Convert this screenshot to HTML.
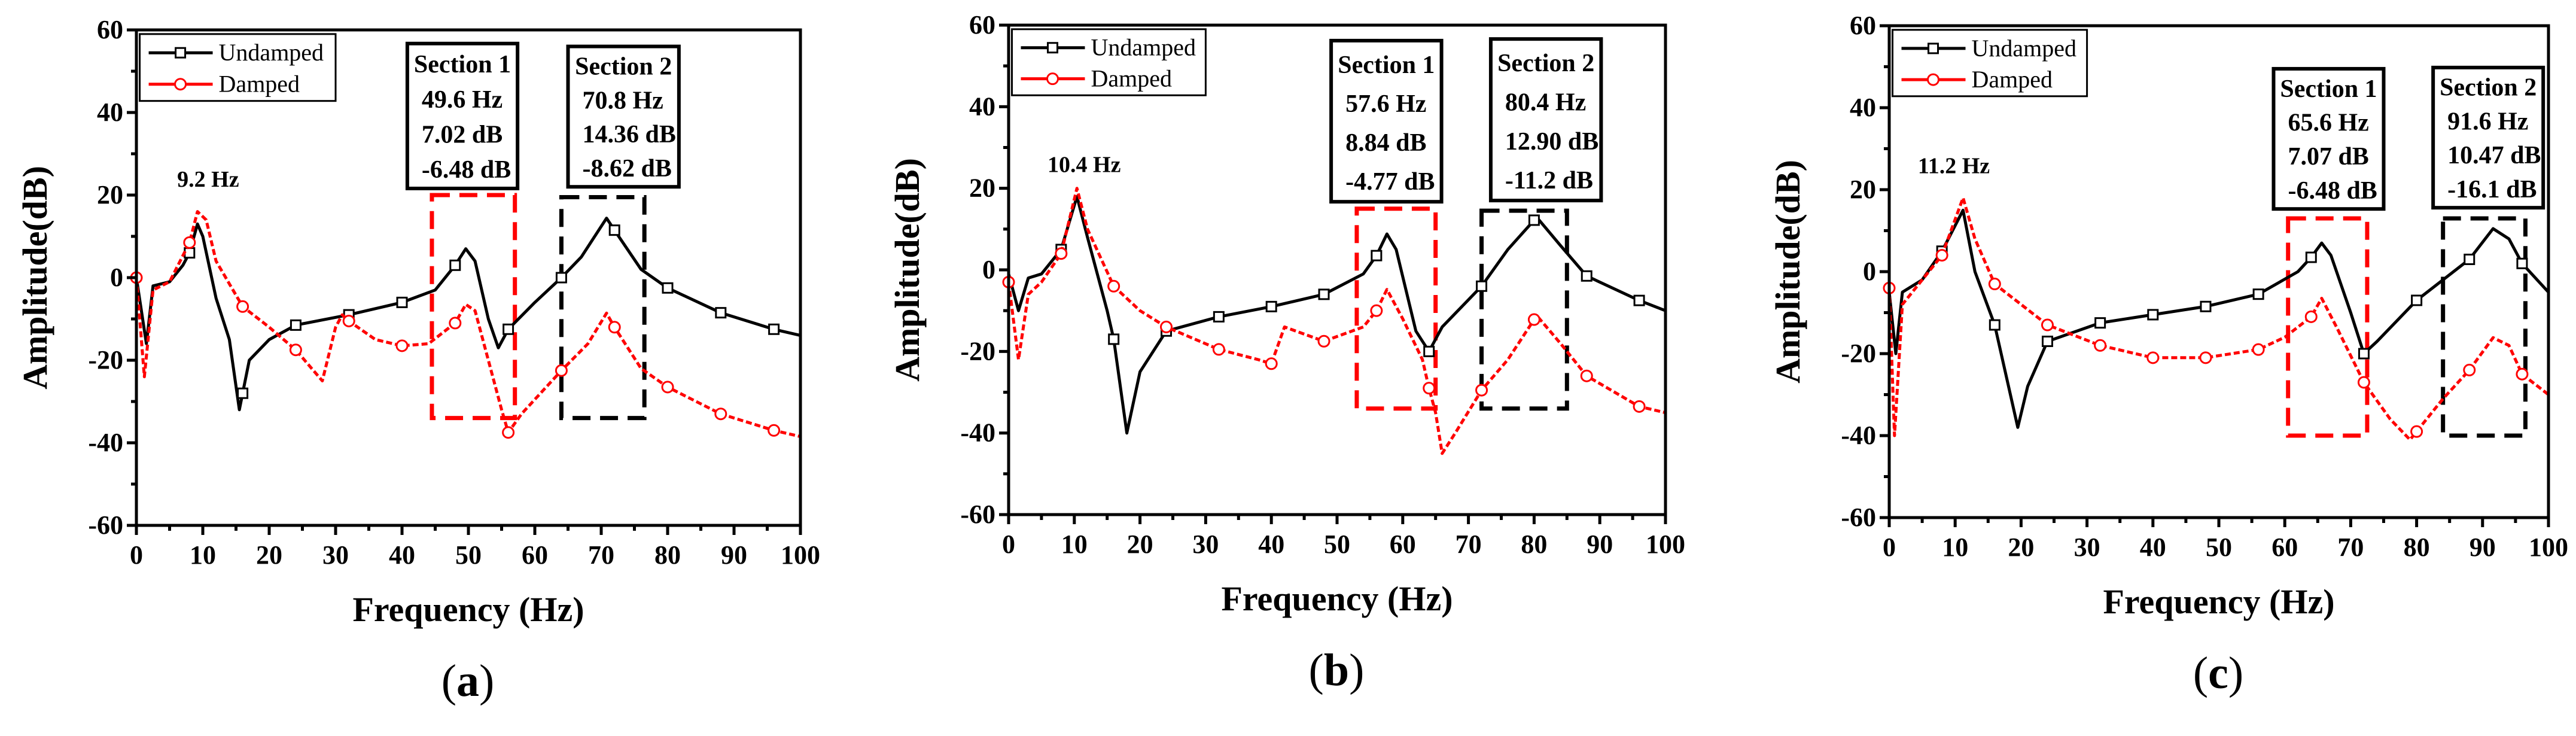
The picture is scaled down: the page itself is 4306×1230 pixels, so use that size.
<!DOCTYPE html>
<html><head><meta charset="utf-8"><style>
html,body{margin:0;padding:0;background:#fff;}
svg{display:block;font-family:"Liberation Serif",serif;}
</style></head><body>
<svg id="fig" width="4306" height="1230" viewBox="0 0 4306 1230" xmlns="http://www.w3.org/2000/svg"></svg>
<script>
const xTicks=[0,10,20,30,40,50,60,70,80,90,100];
const yTicks=[-60,-40,-20,0,20,40,60];
const markerFreqs=[0,8,16,24,32,40,48,56,64,72,80,88,96];

const undampedA_f=[0,1.5,2.5,5,7,8,9.2,10,12,14,15.5,16,17,20,24,32,40,45,48,49.6,51,53,54.5,56,60,64,67,70.8,72,76,80,88,96,100];
const undampedA_y=[0,-16,-2,-1,3,6,13,10,-5,-15,-32,-28,-20,-15,-11.5,-9,-6,-3,3,7,4,-10,-17,-12.5,-6,0,5,14.4,11.5,2,-2.5,-8.5,-12.5,-14];
const dampedA_f=[0,1.2,2.5,5,8,9.2,10.5,12,16,20,24,28,30,31,32,36,40,44,48,49.6,51,53,55,56,58,64,68,70.8,72,76,80,88,96,100];
const dampedA_y=[0,-24,-3,-1,8.5,16,14,4,-7,-12,-17.5,-25,-12,-9,-10.5,-15,-16.5,-16,-11,-6.5,-8,-20,-32,-37.5,-33,-22.5,-16,-8.6,-12,-22,-26.5,-33,-37,-38.5];

const undampedB_f=[0,1.5,3,5,8,10.4,12,15,16,18,20,24,32,40,48,54,56,57.6,59,62,64,66,72,76,80.4,84,88,96,100];
const undampedB_y=[-1,-10,-2,-1,5,18,8,-10,-17,-40,-25,-15,-11.5,-9,-6,-1,3.5,8.8,5,-15,-20,-14,-4,5,12.9,6,-1.5,-7.5,-10];
const dampedB_f=[0,1.5,3,5,8,10.4,12,16,20,24,32,38,40,42,48,54,56,57.6,60,63,64,65,66,68,72,76,80.4,84,88,96,100];
const dampedB_y=[-3,-22,-6,-3,4,20,10,-4,-10,-14,-19.5,-22,-23,-14,-17.5,-14,-10,-4.8,-12,-22,-29,-35,-45,-40,-29.5,-22,-11.2,-18,-26,-33.5,-35];

const undampedC_f=[0,1,2,5,8,11.2,13,16,19.5,21,24,32,40,48,56,62,64,65.6,67,70,72,74,80,88,91.6,94,96,100];
const undampedC_y=[-5,-20,-5,-2,5,15,0,-13,-38,-28,-17,-12.5,-10.5,-8.5,-5.5,0,3.5,7,4,-10,-20,-17,-7,3,10.5,8,2,-5];
const dampedC_f=[0,0.8,2,5,8,11.2,13,16,24,32,40,48,56,60,64,65.6,68,72,76,79,80,84,88,91.6,94,96,100];
const dampedC_y=[-4,-40,-8,-2,4,18,8,-3,-13,-18,-21,-21,-19,-16,-11,-6.5,-14,-27,-36,-41,-39,-31,-24,-16.1,-18,-25,-30];

const sec1A=["Section 1","49.6 Hz","7.02 dB","-6.48 dB"], sec2A=["Section 2","70.8 Hz","14.36 dB","-8.62 dB"];
const sec1B=["Section 1","57.6 Hz","8.84 dB","-4.77 dB"], sec2B=["Section 2","80.4 Hz","12.90 dB","-11.2 dB"];
const sec1C=["Section 1","65.6 Hz","7.07 dB","-6.48 dB"], sec2C=["Section 2","91.6 Hz","10.47 dB","-16.1 dB"];

const NS="http://www.w3.org/2000/svg";
const svg=document.getElementById('fig');
function mk(tag,attrs,parent){const e=document.createElementNS(NS,tag);for(const k in attrs)e.setAttribute(k,attrs[k]);(parent||svg).appendChild(e);return e;}
function interp(fs,ys,f){for(let i=0;i<fs.length-1;i++){if(f>=fs[i]&&f<=fs[i+1]){const t=(f-fs[i])/(fs[i+1]-fs[i]);return ys[i]+t*(ys[i+1]-ys[i]);}}return ys[ys.length-1];}

function panel(cfg){
  const g=mk('g',{});
  
  
  const X=v=>cfg.x0+(v/100)*(cfg.x1-cfg.x0);
  const Y=v=>cfg.y1-((v+60)/120)*(cfg.y1-cfg.y0);
  function dbox(b,col,name){const r=mk('rect',{x:X(b[0]),y:Y(b[3]),width:X(b[1])-X(b[0]),height:Y(b[2])-Y(b[3]),fill:'none',stroke:col,'stroke-width':7,'stroke-dasharray':'30 16'},g);
    }
  dbox(cfg.redBox,'#ff0000','section1-region');
  dbox(cfg.blackBox,'#000','section2-region');
  function series(fs,ys,col,dash,name,markerType){
    const pts=fs.map((f,i)=>X(f).toFixed(1)+','+Y(ys[i]).toFixed(1)).join(' ');
    const p=mk('polyline',{points:pts,fill:'none',stroke:col,'stroke-width':5,'stroke-linejoin':'round'},g);
    if(dash)p.setAttribute('stroke-dasharray',dash);
    
    markerFreqs.forEach(f=>{
      if(markerType==='sq'&&f===0)return;
      const cx=X(f),cy=Y(interp(fs,ys,f));let m;
      if(markerType==='sq')m=mk('rect',{x:cx-8,y:cy-8,width:16,height:16,fill:'#fff',stroke:col,'stroke-width':3},g);
      else m=mk('circle',{cx:cx,cy:cy,r:9,fill:'#fff',stroke:col,'stroke-width':3},g);
      
    });
  }
  series(cfg.uf,cfg.uy,'#000',null,'undamped','sq');
  series(cfg.df,cfg.dy,'#ff0000','10 5','damped','ci');
  const fr=mk('rect',{x:cfg.x0,y:cfg.y0,width:cfg.x1-cfg.x0,height:cfg.y1-cfg.y0,fill:'none',stroke:'#000','stroke-width':5},g);
  
  for(let v=0;v<=100;v+=5){const maj=v%10===0;mk('line',{x1:X(v),x2:X(v),y1:cfg.y1,y2:cfg.y1+(maj?16:9),stroke:'#000','stroke-width':5},g);}
  for(let v=-60;v<=60;v+=10){const maj=v%20===0;mk('line',{y1:Y(v),y2:Y(v),x1:cfg.x0,x2:cfg.x0-(maj?16:9),stroke:'#000','stroke-width':5},g);}
  xTicks.forEach(v=>{const t=mk('text',{x:X(v),y:cfg.y1+64,'text-anchor':'middle','font-size':44,'font-weight':'bold'},g);t.textContent=v;
    });
  yTicks.forEach(v=>{const t=mk('text',{x:cfg.x0-22,y:Y(v)+14,'text-anchor':'end','font-size':44,'font-weight':'bold'},g);t.textContent=v;
    });
  const yt=mk('text',{x:0,y:0,'text-anchor':'middle','font-size':58,'font-weight':'bold',transform:`translate(${cfg.x0-150},${(cfg.y0+cfg.y1)/2}) rotate(-90)`},g);
  yt.textContent='Amplitude(dB)';
  const xt=mk('text',{x:(cfg.x0+cfg.x1)/2,y:cfg.y1+160,'text-anchor':'middle','font-size':58,'font-weight':'bold'},g);
  xt.textContent='Frequency (Hz)';
  const pl=mk('text',{x:(cfg.x0+cfg.x1)/2-1,y:cfg.y1+285,'text-anchor':'middle','font-size':76},g);
  pl.innerHTML='(<tspan font-weight="bold">'+cfg.id+'</tspan>)';
  const lx=X(0.5),ly=Y(59),lw=X(30)-X(0.5),lh=Y(42.8)-Y(59);
  const lg=mk('g',{},g);
  mk('rect',{x:lx,y:ly,width:lw,height:lh,fill:'#fff',stroke:'#000','stroke-width':3},lg);
  [['Undamped','#000','sq'],['Damped','#ff0000','ci']].forEach((e,i)=>{
    const yy=ly+lh*(i===0?0.28:0.75);
    const eg=mk('g',{},lg);
    mk('line',{x1:lx+15,x2:lx+122,y1:yy,y2:yy,stroke:e[1],'stroke-width':5},eg);
    if(e[2]==='sq')mk('rect',{x:lx+60,y:yy-8,width:16,height:16,fill:'#fff',stroke:e[1],'stroke-width':3},eg);
    else mk('circle',{cx:lx+68,cy:yy,r:9,fill:'#fff',stroke:e[1],'stroke-width':3},eg);
    const t=mk('text',{x:lx+132,y:yy+13,'font-size':40},eg);t.textContent=e[0];
  });
  const pk=mk('text',{x:X(cfg.peak[0]),y:Y(cfg.peak[1]),'text-anchor':'middle','font-size':38,'font-weight':'bold'},g);
  pk.textContent=cfg.peak[2];
  function tbox(b,lines,name){
    const tg=mk('g',{},g);
    const bx=X(b[0]),by=Y(b[3]),bw=X(b[1])-X(b[0]),bh=Y(b[2])-Y(b[3]);
    mk('rect',{x:bx,y:by,width:bw,height:bh,fill:'#fff',stroke:'#000','stroke-width':6},tg);
    lines.forEach((s,i)=>{const t=mk('text',{x:bx+(i===0?bw/2:24),y:by+bh*(0.2+i*0.242),'text-anchor':i===0?'middle':'start','font-size':42,'font-weight':'bold'},tg);t.textContent=s;});
  }
  tbox(cfg.t1,cfg.s1,'section1-textbox');
  tbox(cfg.t2,cfg.s2,'section2-textbox');
}

panel({id:'a',x0:228,x1:1338,y0:50,y1:878,uf:undampedA_f,uy:undampedA_y,df:dampedA_f,dy:dampedA_y,
  redBox:[44.5,57,-34,20],blackBox:[64,76.5,-34,19.5],t1:[40.8,57.4,21.6,56.7],t2:[65,81.7,22,56],s1:sec1A,s2:sec2A,peak:[10.8,22,'9.2 Hz']});
panel({id:'b',x0:1686,x1:2784,y0:42,y1:860,uf:undampedB_f,uy:undampedB_y,df:dampedB_f,dy:dampedB_y,
  redBox:[53,65,-34,15],blackBox:[72,85,-34,14.5],t1:[49.1,65.9,16.7,56.2],t2:[73.4,90.2,17,56.6],s1:sec1B,s2:sec2B,peak:[11.5,24,'10.4 Hz']});
panel({id:'c',x0:3158,x1:4260,y0:43,y1:865,uf:undampedC_f,uy:undampedC_y,df:dampedC_f,dy:dampedC_y,
  redBox:[60.5,72.5,-40,13],blackBox:[84,96.5,-40,13],t1:[58.3,75,15.3,49.5],t2:[82.5,99.2,15.6,49.8],s1:sec1C,s2:sec2C,peak:[9.8,24,'11.2 Hz']});
</script>
</body></html>
